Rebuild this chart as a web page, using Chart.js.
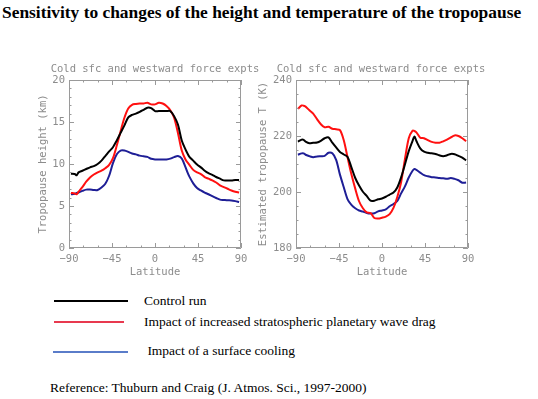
<!DOCTYPE html>
<html>
<head>
<meta charset="utf-8">
<script src="https://cdn.jsdelivr.net/npm/chart.js@4/dist/chart.umd.min.js"></script>
<style>
  html, body { margin:0; padding:0; background:#fff; }
  body { width:538px; height:399px; position:relative; overflow:hidden; font-family:"Liberation Serif", "Times New Roman", serif; }
  #title { position:absolute; left:2px; top:2px; font-weight:bold; font-size:17.4px; white-space:nowrap; color:#000; }
  .cw { position:absolute; }
  .sub { position:absolute; top:61px; width:260px; text-align:center; font-family:"DejaVu Sans Mono", monospace; font-size:10.5px; line-height:14px; color:#8c8c8c; white-space:nowrap; }
  .lg { position:absolute; height:2px; }
  .lt { position:absolute; font-size:13.5px; white-space:nowrap; color:#000; line-height:16px; }
</style>
</head>
<body>
<div id="title">Sensitivity to changes of the height and temperature of the tropopause</div>
<div class="cw" style="left:0px;top:56px;width:270px;height:234px;"><canvas id="c1" width="270" height="234"></canvas></div>
<div class="cw" style="left:250px;top:56px;width:288px;height:234px;"><canvas id="c2" width="288" height="234"></canvas></div>
<div class="sub" id="sub1" style="left:25px;"></div>
<div class="sub" id="sub2" style="left:251px;"></div>

<div class="lg" style="left:54px;top:300px;width:74px;background:#000;"></div>
<div class="lt" style="left:144px;top:293px;">Control run</div>
<div class="lg" style="left:54px;top:321px;width:70px;background:#e8394f;"></div>
<div class="lt" style="left:144px;top:314px;">Impact of increased stratospheric planetary wave drag</div>
<div class="lg" style="left:53px;top:351px;width:75px;background:#5a7cc9;"></div>
<div class="lt" style="left:144px;top:343px;">&nbsp;Impact of a surface cooling</div>
<div class="lt" style="left:50px;top:380px;">Reference: Thuburn and Craig (J. Atmos. Sci., 1997-2000)</div>

<script>
// ---- Data ----
const latitudes = [-88,-84,-82,-80,-76,-72,-68,-64,-60,-56,-52,-48,-44,-40,-36,-32,-28,-24,-20,-16,-12,-8,-4,0,4,8,12,16,20,24,28,32,34,36,40,44,48,52,56,60,64,68,72,76,80,84,88];

// Tropopause height (km)
const heightControl = [8.83,8.8,8.65,9.0,9.2,9.4,9.6,9.75,10.0,10.4,10.95,11.5,12.0,12.8,13.7,14.6,15.55,15.85,16.0,16.2,16.45,16.7,16.65,16.3,16.3,16.3,16.3,16.3,15.7,14.7,12.8,11.7,11.25,10.86,10.4,9.95,9.6,9.2,8.9,8.7,8.45,8.25,8.05,8.05,8.05,8.1,8.1];
const heightWaveDrag = [6.56,6.48,6.4,6.7,7.25,7.9,8.4,8.75,9.0,9.2,9.5,9.9,10.7,12.2,13.9,15.5,16.6,17.05,17.15,17.2,17.2,17.3,17.1,17.1,17.3,17.2,16.9,16.4,15.5,13.7,11.6,10.5,10.2,9.9,9.3,9.0,8.8,8.45,8.25,8.05,7.8,7.45,7.25,7.05,6.85,6.7,6.6];
const heightSfcCooling = [6.4,6.45,6.55,6.6,6.8,6.95,6.95,6.9,6.9,7.2,7.65,8.6,10.1,11.15,11.6,11.6,11.45,11.25,11.15,11.0,10.92,10.85,10.62,10.55,10.55,10.55,10.55,10.64,10.82,10.94,10.66,9.6,9.0,8.5,7.7,7.15,6.85,6.6,6.4,6.17,5.95,5.76,5.72,5.68,5.66,5.58,5.47];

// Estimated tropopause temperature (K)
const tempControl = [218.0,218.7,218.6,218.0,217.4,217.6,217.7,218.3,219.2,219.5,217.6,215.9,214.3,213.4,212.5,208.8,205.0,202.3,200.1,198.6,196.9,196.9,197.4,197.7,198.3,199.1,199.8,201.6,205.2,209.8,214.6,218.3,219.8,218.2,215.6,214.4,214.0,213.8,213.6,213.1,212.8,213.1,213.6,213.5,212.9,212.3,211.3];
const tempWaveDrag = [229.7,230.9,230.8,230.5,229.2,228.0,226.0,224.2,223.1,223.3,222.6,222.4,222.1,218.5,212.3,206.3,201.2,196.7,194.2,192.7,192.5,190.7,190.5,190.8,191.2,192.1,194.3,198.2,203.5,211.7,219.2,221.9,221.8,221.3,219.4,219.2,218.5,217.9,217.6,217.6,218.1,218.7,219.5,220.2,220.0,219.2,218.1];
const tempSfcCooling = [213.3,213.8,213.8,213.3,212.8,212.4,212.7,212.8,212.9,214.0,213.8,211.5,206.2,201.7,197.4,195.4,194.2,193.4,193.0,192.5,192.3,192.4,193.1,193.4,193.8,194.9,195.7,196.8,199.5,202.0,205.2,207.6,208.2,207.9,206.9,206.0,205.6,205.3,205.2,205.0,204.9,204.7,205.0,204.7,204.2,203.3,203.4];

const latTickValues = [-90,-45,0,45,90];
const latTickLabels = ['\u221290','\u221245','0','45','90'];
const seriesNames = ['Control run','Impact of increased stratospheric planetary wave drag','Impact of a surface cooling'];
const panelTitle = 'Cold sfc and westward force expts';

document.getElementById('sub1').textContent = panelTitle;
document.getElementById('sub2').textContent = panelTitle;

// ---- Styling ----
const GRAY = '#9a9a9a';
const TXT = '#8c8c8c';
const MONO = '"DejaVu Sans Mono", "Liberation Mono", monospace';
const COLORS = ['#000000', '#ff1010', '#1e1e96'];

function pts(vals) { return latitudes.map((x, i) => ({x: x, y: vals[i]})); }

// Draws an IDL-style box with inward major/minor ticks on all four sides
const boxTicks = {
  id: 'boxTicks',
  afterDatasetsDraw(chart, args, opts) {
    const {ctx, chartArea: a, scales} = chart;
    ctx.save();
    ctx.strokeStyle = GRAY;
    ctx.lineWidth = 1;
    ctx.beginPath();
    ctx.rect(a.left + 0.5, a.top + 0.5, a.right - a.left - 1, a.bottom - a.top - 1);
    ctx.stroke();
    ctx.beginPath();
    const xs = scales.x, ys = scales.y;
    for (let v = xs.min; v <= xs.max + 1e-9; v += opts.xMinor) {
      const px = Math.round(xs.getPixelForValue(v)) + 0.5;
      const major = Math.abs(v / opts.xMajor - Math.round(v / opts.xMajor)) < 1e-6;
      const L = major ? 5 : 2.5;
      ctx.moveTo(px, a.bottom); ctx.lineTo(px, a.bottom - L);
      ctx.moveTo(px, a.top); ctx.lineTo(px, a.top + L);
    }
    for (let v = ys.min; v <= ys.max + 1e-9; v += opts.yMinor) {
      const py = Math.round(ys.getPixelForValue(v)) + 0.5;
      const major = Math.abs((v - ys.min) / opts.yMajor - Math.round((v - ys.min) / opts.yMajor)) < 1e-6;
      const L = major ? 5 : 2.5;
      ctx.moveTo(a.left, py); ctx.lineTo(a.left + L, py);
      ctx.moveTo(a.right, py); ctx.lineTo(a.right - L, py);
    }
    ctx.stroke();
    ctx.restore();
  }
};

function makeChart(id, series, yMin, yMax, yStep, yMinor, yTitle, yWidth, padRight, yTitlePad) {
  const font = {family: MONO, size: 10.5, lineHeight: 1.2};
  return new Chart(document.getElementById(id), {
    type: 'line',
    data: {
      datasets: series.map((s, i) => ({
        label: seriesNames[i],
        data: pts(s),
        borderColor: COLORS[i],
        borderWidth: 2,
        pointRadius: 0,
        tension: 0.3,
        fill: false
      }))
    },
    options: {
      responsive: false,
      animation: false,
      layout: {padding: {left: 0, right: padRight, top: 24, bottom: 0}},
      plugins: {
        legend: {display: false},
        tooltip: {enabled: false},
        title: {display: false},
        boxTicks: {xMajor: 45, xMinor: 15, yMajor: yStep, yMinor: yMinor}
      },
      scales: {
        x: {
          type: 'linear', min: -90, max: 90,
          afterBuildTicks: (s) => { s.ticks = latTickValues.map(v => ({value: v})); },
          afterFit: (s) => { s.height = 42; },
          grid: {display: false, drawTicks: false},
          border: {display: false},
          ticks: {color: TXT, font: font, padding: 5, maxRotation: 0, autoSkip: false,
                  callback: (v) => latTickLabels[latTickValues.indexOf(v)]},
          title: {display: true, text: 'Latitude', color: TXT, font: font, padding: {top: 0, bottom: 11.7}}
        },
        y: {
          type: 'linear', min: yMin, max: yMax,
          afterFit: (s) => { s.width = yWidth; },
          grid: {display: false, drawTicks: false},
          border: {display: false},
          ticks: {color: TXT, font: font, padding: 4, stepSize: yStep},
          title: {display: true, text: yTitle, color: TXT, font: font, padding: {top: yTitlePad, bottom: 0}}
        }
      }
    },
    plugins: [boxTicks]
  });
}

makeChart('c1', [heightControl, heightWaveDrag, heightSfcCooling], 0, 20, 5, 1, 'Tropopause height (km)', 69, 29, 36.7);
makeChart('c2', [tempControl, tempWaveDrag, tempSfcCooling], 180, 240, 20, 5, 'Estimated tropopause T (K)', 46, 70, 6.7);
</script>
</body>
</html>
